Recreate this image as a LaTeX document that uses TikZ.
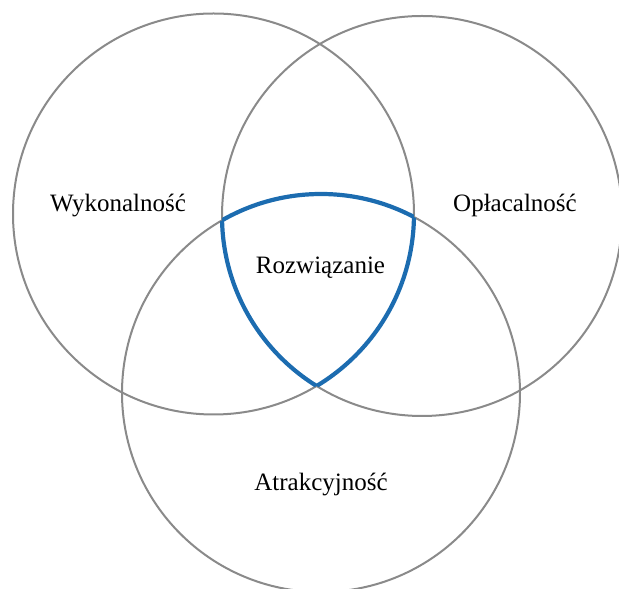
\documentclass[tikz,border=0pt]{standalone}
\usepackage{fontspec}
\setmainfont{Liberation Serif}
\begin{document}
\begin{tikzpicture}[x=1pt,y=1pt,
  setcircle/.style={draw=ringgray, line width=2pt, circle, inner sep=0pt},
  venntext/.style={font=\fontsize{25}{29}\selectfont, anchor=base, inner sep=0pt},
  solution/.style={draw=solblue, line width=4.2pt}]
\definecolor{ringgray}{RGB}{138,138,138}
\definecolor{solblue}{RGB}{28,108,176}
\useasboundingbox (0,0) rectangle (619,589);
% the three sets
\node[setcircle, minimum size=401pt] (L) at (213.5,375) {};
\node[setcircle, minimum size=400pt] (R) at (422,373) {};
\node[setcircle, minimum size=398pt] (B) at (321,196) {};
% common part: each circle's arc inside the other two
\begin{scope}
  \clip (R.center) circle[radius=200];
  \clip (B.center) circle[radius=199];
  \draw[solution] (L.center) circle[radius=200.5];
\end{scope}
\begin{scope}
  \clip (L.center) circle[radius=200.5];
  \clip (B.center) circle[radius=199];
  \draw[solution] (R.center) circle[radius=200];
\end{scope}
\begin{scope}
  \clip (L.center) circle[radius=200.5];
  \clip (R.center) circle[radius=200];
  \draw[solution] (B.center) circle[radius=199];
\end{scope}
% labels
\node[venntext] (wyk) at (118,377) {Wykonalność};
\node[venntext] (opl) at (515,377) {Opłacalność};
\node[venntext] (roz) at (320.5,315) {Rozwiązanie};
\node[venntext] (atr) at (321,98) {Atrakcyjność};
\end{tikzpicture}
\end{document}
